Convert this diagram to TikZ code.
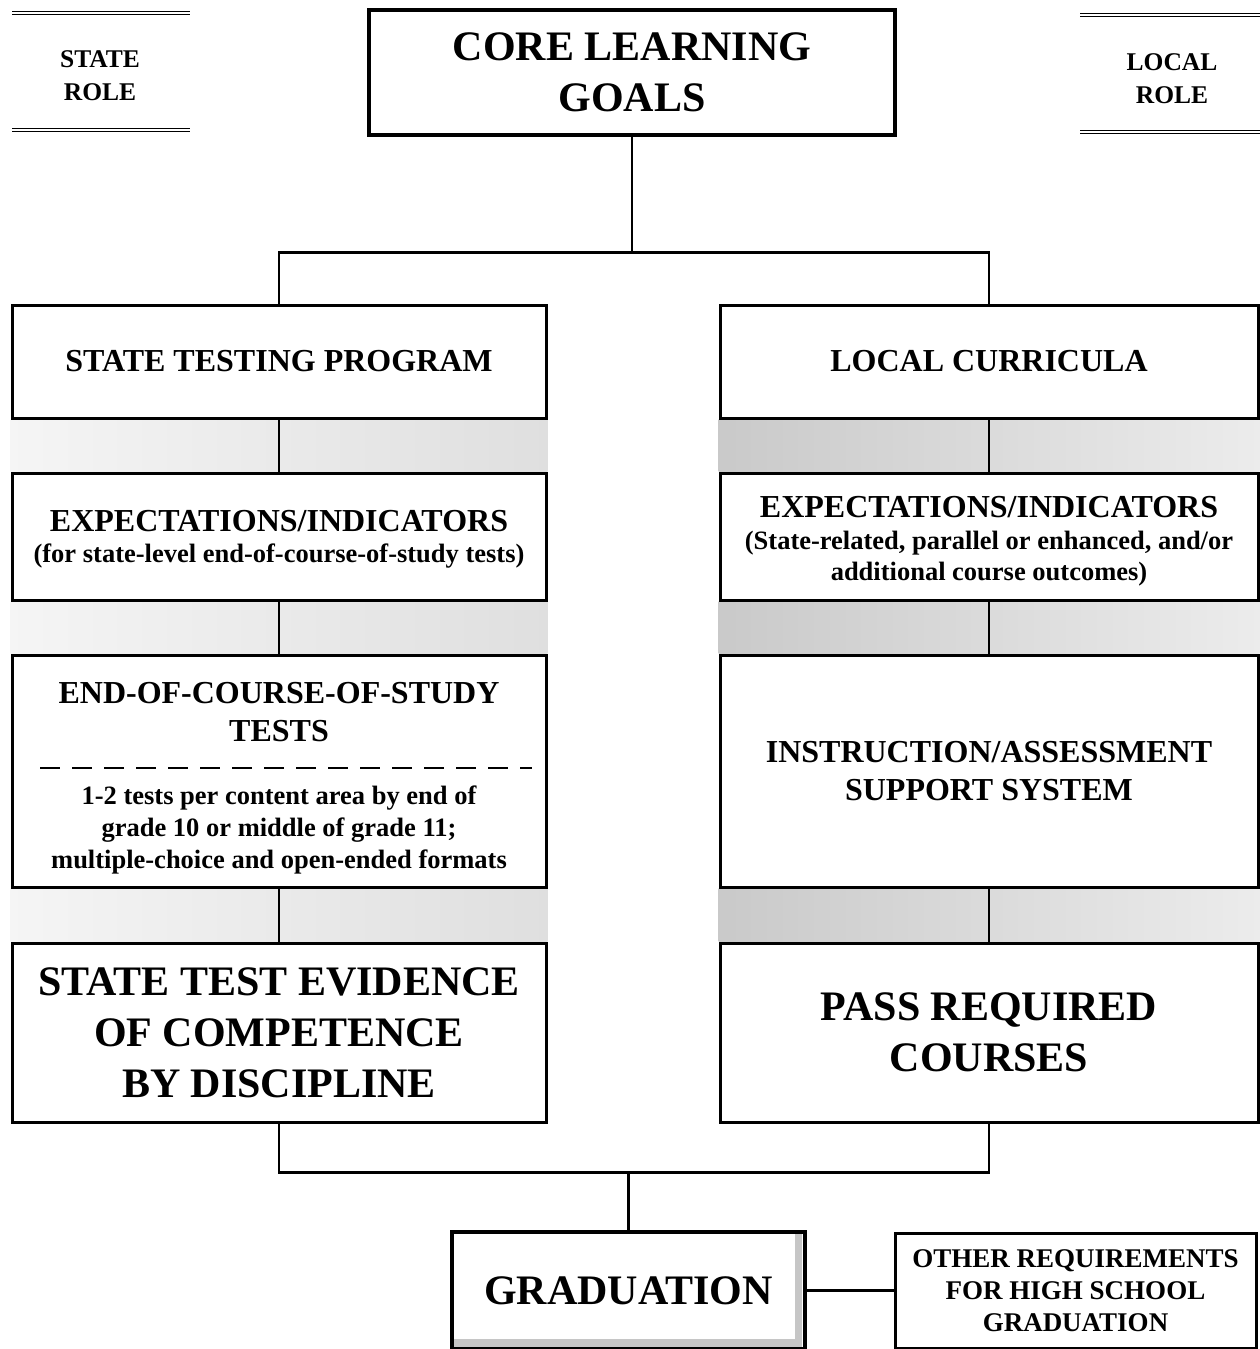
\documentclass[tikz,border=0pt]{standalone}
\usepackage{fontspec}
\setmainfont{Liberation Serif}
\usepackage{tikz}
\usetikzlibrary{positioning, calc, backgrounds}

\begin{document}
\begin{tikzpicture}[x=1pt, y=-1pt,
    box/.style={draw, fill=white, line width=3pt, inner sep=0pt, align=center},
    bigtxt/.style={font=\fontsize{42}{51}\selectfont\bfseries},
    midtxt/.style={font=\fontsize{32}{38}\selectfont\bfseries, align=center},
    subtxt/.style={font=\fontsize{26.5}{32}\selectfont\bfseries, align=center},
    roletxt/.style={font=\fontsize{25.5}{33}\selectfont\bfseries, align=center},
    link/.style={line width=2.8pt},
    rule/.style={line width=1.4pt, double distance=1.3pt}]
    \useasboundingbox (0,0) rectangle (1260,1349);

    % Role headings
    \node[roletxt] (srole) at (100,76) {STATE\\ROLE};
    \node[roletxt] (lrole) at (1172,79) {LOCAL\\ROLE};
    \draw[rule] (12,13) -- (190,13);
    \draw[rule] (12,130) -- (190,130);
    \draw[rule] (1080,15) -- (1260,15);
    \draw[rule] (1080,132) -- (1260,132);

    % Top goal
    \node[box, bigtxt, line width=4.5pt, minimum width=526pt, minimum height=125pt] (core) at (632,72.5) {CORE LEARNING\\GOALS};

    % State column
    \node[box, midtxt, minimum width=534pt, minimum height=113pt] (stp) at (279,361.5) {STATE TESTING PROGRAM};
    \node[box, minimum width=534pt, minimum height=127pt] (sexp) at (279,536.5) {};
    \node[midtxt] (sexptitle) at (279,521) {EXPECTATIONS/INDICATORS};
    \node[subtxt] (sexpnote) at (279,556) {(for state-level end-of-course-of-study tests)};
    \node[box, minimum width=534pt, minimum height=232pt] (seoc) at (279,771) {};
    \node[midtxt] (seoctitle) at (279,712) {END-OF-COURSE-OF-STUDY\\TESTS};
    \node[subtxt] (seocnote) at (279,830) {1-2 tests per content area by end of\\grade 10 or middle of grade 11;\\multiple-choice and open-ended formats};
    \draw[line width=2.6pt, dash pattern=on 20pt off 12pt] (40,768) -- (532,768);
    \node[box, bigtxt, minimum width=534pt, minimum height=179pt] (sev) at (279,1032.5) {STATE TEST EVIDENCE\\OF COMPETENCE\\BY DISCIPLINE};

    % Local column
    \node[box, midtxt, minimum width=538pt, minimum height=113pt] (lcur) at (989,361.5) {LOCAL CURRICULA};
    \node[box, minimum width=538pt, minimum height=127pt] (lexp) at (989,536.5) {};
    \node[midtxt] (lexptitle) at (989,507) {EXPECTATIONS/INDICATORS};
    \node[subtxt, font=\fontsize{26.5}{31}\selectfont\bfseries] (lexpnote) at (989,559) {(State-related, parallel or enhanced, and/or\\additional course outcomes)};
    \node[box, midtxt, minimum width=538pt, minimum height=232pt] (linst) at (989,771) {INSTRUCTION/ASSESSMENT\\SUPPORT SYSTEM};
    \node[box, bigtxt, minimum width=538pt, minimum height=179pt] (lpass) at (989,1032.5) {PASS REQUIRED\\COURSES};

    % Shaded bands between the boxes
    \begin{scope}[on background layer]
        \foreach \a/\b in {stp/sexp, sexp/seoc, seoc/sev}
            \shade[left color=gray!8, middle color=gray!40, right color=gray!25] (\a.south west) rectangle (\b.north east);
        \foreach \a/\b in {lcur/lexp, lexp/linst, linst/lpass}
            \shade[left color=gray!42, middle color=gray!40, right color=gray!15] (\a.south west) rectangle (\b.north east);
    \end{scope}

    % Links down the columns
    \foreach \a/\b in {stp/sexp, sexp/seoc, seoc/sev, lcur/lexp, lexp/linst, linst/lpass}
        \draw[link] (\a.south) -- (\b.north);

    % Graduation
    \node[box, bigtxt, line width=4.5pt, minimum width=353pt, minimum height=117pt] (grad) at (628.5,1290.5) {GRADUATION};
    \fill[gray!45] ($(grad.north east)+(-12,4)$) rectangle ($(grad.south east)+(-5,-4)$);
    \fill[gray!45] ($(grad.south west)+(4,-12)$) rectangle ($(grad.south east)+(-5,-4)$);
    \node[box, roletxt, font=\fontsize{27}{32}\selectfont\bfseries, minimum width=361pt, minimum height=115pt] (other) at (1075.5,1290.5) {OTHER REQUIREMENTS\\FOR HIGH SCHOOL\\GRADUATION};

    % Connectors
    \coordinate (split) at ($(core.south)+(0,115)$);
    \draw[link] (core.south) -- (split);
    \draw[link] (stp.north) |- (split) -| (lcur.north);
    \coordinate (merge) at ($(grad.north)+(0,-57)$);
    \draw[link] (sev.south) |- (merge) -| (lpass.south);
    \draw[link] (merge) -- (grad.north);
    \draw[link] (grad.east) -- (other.west);
\end{tikzpicture}
\end{document}
